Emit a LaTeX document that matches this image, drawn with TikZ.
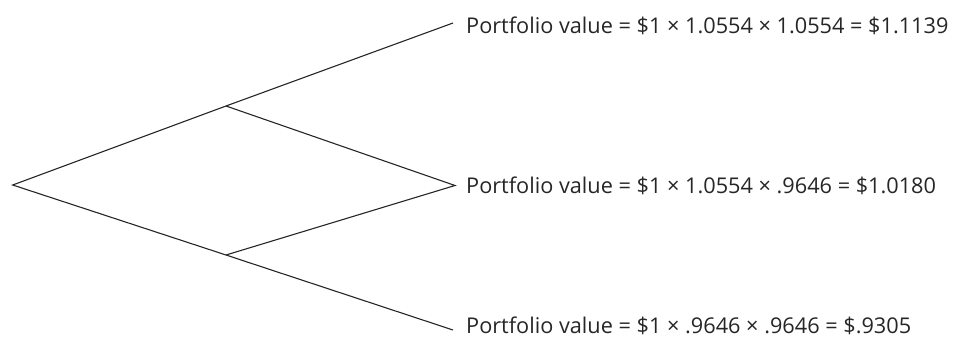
\documentclass[tikz,border=0pt]{standalone}
\usepackage{fontspec}
\setmainfont{Open Sans}
\begin{document}
\begin{tikzpicture}[x=1pt,y=-1pt,
  branch/.style={draw=black!85,line width=1.1pt},
  lbl/.style={anchor=west,inner sep=0pt,font=\fontsize{21.7}{24}\selectfont,text=black!85}]
\useasboundingbox (0,0) rectangle (966,339);
\coordinate (r) at (12.7,185);
\coordinate (a) at (226,106);
\coordinate (b) at (226,255);
\coordinate (l1) at (453,23);
\coordinate (l2) at (455,185.5);
\coordinate (l3) at (453,330);
\draw[branch] (l1) -- (a) -- (r) -- (b) -- (l3);
\draw[branch] (a) -- (l2) -- (b);
\node[lbl] (t1) at (466,26) {Portfolio value = \$1 × 1.0554 × 1.0554 = \$1.1139};
\node[lbl] (t2) at (466,185.5) {Portfolio value = \$1 × 1.0554 × .9646 = \$1.0180};
\node[lbl] (t3) at (466,326) {Portfolio value = \$1 × .9646 × .9646 = \$.9305};
\end{tikzpicture}
\end{document}
